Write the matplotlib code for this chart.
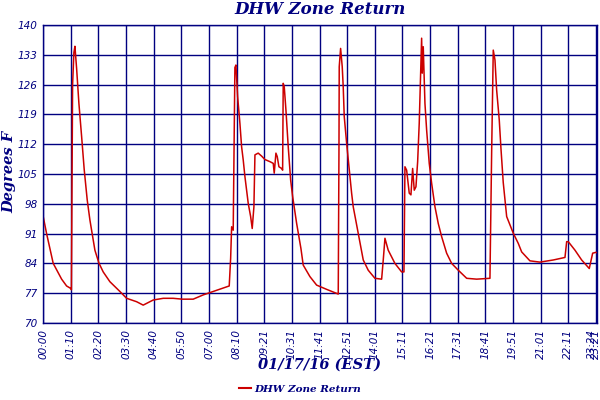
import matplotlib
matplotlib.use('Agg')
import matplotlib.pyplot as plt
from matplotlib.lines import Line2D

# minutes after midnight, 01/17/16
minutes = [0, 8.6, 25.4, 46.7, 59.3, 70.2, 71.5, 74.5, 77.8, 80.4, 84.7, 90.5, 97.4,
           104, 111.6, 118.4, 131.1, 141.2, 152.1, 169.1, 194.5, 211.5, 236.8, 253.5,
           278.9, 304.3, 329.6, 352.4, 380.3, 405.7, 431, 456.4, 471.6, 475.2, 477.7,
           481.7, 484.3, 486, 488.6, 492.9, 498.7, 503, 507.1, 511.4, 519.8, 525.9,
           529.9, 534.2, 536.8, 545.1, 553.8, 562.1, 574.8, 583.2, 585.7, 590, 593.3,
           597.6, 604.5, 607, 608.5, 611.1, 615.4, 621.2, 627.3, 632.4, 642.5, 653.4,
           659.2, 676.2, 693.2, 718.6, 748, 749.8, 750.5, 754, 758.1, 760.6, 763.2,
           769.3, 775.1, 781.9, 786, 798.7, 811.4, 824, 841, 858, 862.1, 866.4, 874.7,
           891.7, 908.7, 914.6, 917.1, 921.4, 928, 932.3, 936.6, 940.7, 945, 949.3,
           953.3, 956.9, 959.4, 961, 963.5, 967.8, 972.1, 978.7, 984.8, 993.2, 1001.5,
           1010.1, 1022.8, 1035.5, 1052.3, 1073.6, 1098.9, 1132.6, 1136.9, 1141,
           1145.3, 1149.6, 1156.2, 1160.5, 1166.3, 1175, 1191.7, 1204.4, 1213, 1234,
           1259.4, 1293.1, 1322.8, 1327.1, 1331.2, 1348.2, 1365.1, 1384.4, 1393,
           1401.4, 1404]
temps = [95, 91, 84, 80.3, 78.7, 78.1, 77.8, 126, 133.5, 135, 129.8, 121.6, 113.8,
         106, 98.9, 94.2, 87.1, 84.1, 82, 79.7, 77.4, 75.8, 75, 74.2,
         75.4, 75.8, 75.8, 75.6, 75.6, 76.6, 77.4, 78.2, 78.7, 85.2, 92.6,
         91.8, 115, 130, 130.6, 123.2, 116.9, 111.4, 108.3, 104.4, 98.1, 95,
         92.2, 97.3, 109.5, 109.9, 109.2, 108.4, 107.9, 107.5, 105.2, 109.9, 109.1,
         106.7, 106.3, 105.9, 126.3, 125.5, 120, 111.4, 103.6, 99.7, 93.4, 87.5,
         83.6, 80.9, 78.9, 77.9, 76.8, 110, 130.2, 134.5, 130.2, 125.5, 118.5,
         112.2, 106.7, 100.5, 97.3, 91.1, 84.8, 82.4, 80.5, 80.3, 84.8, 89.9, 87.1,
         84, 82, 82, 106.7, 105.9, 100.5, 100.1, 106.3, 101.2, 102, 107.9,
         116.9, 128.7, 136.9, 128.7, 134.9, 121.6, 115.3, 107.5, 102.8, 97.3, 93.4,
         90.3, 86.4, 84, 82.4, 80.5, 80.3, 80.5, 110, 134.1,
         131.8, 124.7, 117.7, 111, 103, 95, 91.1, 88.7, 86.7, 84.6,
         84.3, 84.8, 85.4, 89.1, 89.1, 87.1, 84.8, 82.8, 86.4,
         86.6, 86.5]

tick_labels = ['00:00', '01:10', '02:20', '03:30', '04:40', '05:50', '07:00', '08:10',
               '09:21', '10:31', '11:41', '12:51', '14:01', '15:11', '16:21', '17:31',
               '18:41', '19:51', '21:01', '22:11', '23:21', '23:24']
y_ticks = [70, 77, 84, 91, 98, 105, 112, 119, 126, 133, 140]

navy = '#000080'
red = '#cc0000'

fig = plt.figure(figsize=(6, 4), dpi=100)
ax = fig.add_axes([0.072, 0.1925, 0.923, 0.745])

ax.plot(minutes, temps, color=red, lw=1.1)

x_ticks = [i * 70.05 for i in range(21)] + [1404]
ax.set_xlim(0, 1404)
ax.set_ylim(70, 140)
ax.set_xticks(x_ticks)
ax.set_xticklabels(tick_labels, rotation=90, fontsize=7.5, style='italic', color=navy)
ax.get_xticklabels()[-1].set_ha('right')
ax.set_yticks(y_ticks)
ax.set_yticklabels([str(v) for v in y_ticks], fontsize=7.5, style='italic', color=navy)
ax.tick_params(length=0, pad=4)
ax.grid(True, color=navy, lw=1.0)
for s in ax.spines.values():
    s.set_color(navy)
    s.set_linewidth(1.0)

serif = 'DejaVu Serif'
fig.text(0.533, 0.975, 'DHW Zone Return', ha='center', va='center', color=navy,
         fontsize=12, fontweight='bold', style='italic', family=serif)
fig.text(0.015, 0.57, 'Degrees F', rotation=90, ha='center', va='center', color=navy,
         fontsize=10.5, fontweight='bold', style='italic', family=serif)
fig.text(0.533, 0.088, '01/17/16 (EST)', ha='center', va='center', color=navy,
         fontsize=10.5, fontweight='bold', style='italic', family=serif)

leg = fig.legend([Line2D([0], [0], color=red, lw=1.5)], ['DHW Zone Return'],
                 loc='center', bbox_to_anchor=(0.5, 0.027), frameon=False,
                 handlelength=1.2, handletextpad=0.3,
                 prop={'family': serif, 'weight': 'bold', 'style': 'italic', 'size': 7.5})
for t in leg.get_texts():
    t.set_color(navy)

fig.savefig('out.png', dpi=100)
